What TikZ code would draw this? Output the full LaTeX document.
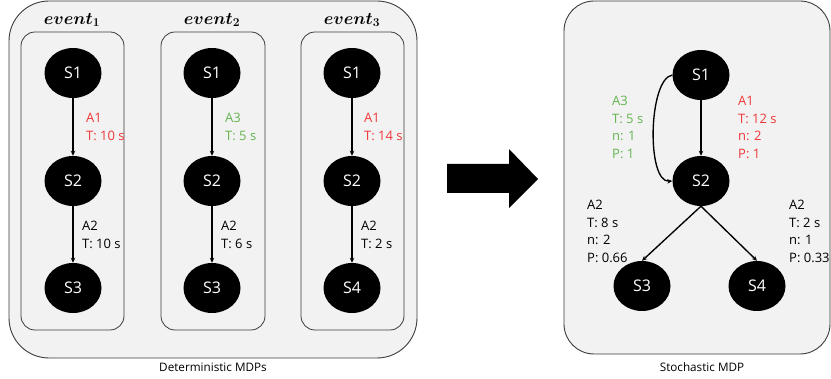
\documentclass[tikz,border=0pt]{standalone}
\usepackage{fontspec}
\setmainfont{Open Sans}
\usetikzlibrary{shapes.geometric,arrows.meta}
\definecolor{boxfill}{RGB}{242,242,242}
\definecolor{boxline}{RGB}{60,60,60}
\definecolor{lblred}{RGB}{240,55,55}
\definecolor{lblgreen}{RGB}{100,180,80}
\begin{document}
\begin{tikzpicture}[x=1pt,y=-1pt,
  state/.style={ellipse,fill=black,text=white,minimum width=57pt,minimum height=50pt,inner sep=0pt,font=\fontsize{16}{16}\selectfont},
  panel/.style={draw=boxline,fill=boxfill,line width=0.9pt},
  evbox/.style={draw=boxline,fill=boxfill,line width=0.8pt,rounded corners=14pt},
  lbl/.style={anchor=north west,align=left,inner sep=0pt,font=\fontsize{13}{17.5}\selectfont},
  evlbl/.style={inner sep=0pt,font=\fontsize{17}{20}\selectfont\boldmath},
  captxt/.style={inner sep=0pt,font=\fontsize{11.7}{12}\selectfont},
  edge/.style={-{Stealth[length=5pt,width=4.5pt]},line width=1.35pt}]
\useasboundingbox (0,0) rectangle (831,379);
% panels
\draw[panel,rounded corners=40pt] (9,1) rectangle (417,358);
\draw[panel,rounded corners=30pt] (564,1) rectangle (830,354);
\draw[evbox] (21,32) rectangle (124,330);
\draw[evbox] (161,32) rectangle (265,330);
\draw[evbox] (301,32) rectangle (404,330);
% event labels
\node[evlbl] (ev1) at (72,20) {$event_1$};
\node[evlbl] (ev2) at (212,20) {$event_2$};
\node[evlbl] (ev3) at (352,20) {$event_3$};
% event 1
\node[state] (a1) at (73,73) {S1};
\node[state] (a2) at (73,181) {S2};
\node[state] (a3) at (73,288) {S3};
\draw[edge] (a1) -- (a2);
\draw[edge] (a2) -- (a3);
\node[lbl,text=lblred] (la1) at (86,113) {A1\\T: 10 s};
\node[lbl] (la2) at (82,221) {A2\\T: 10 s};
% event 2
\node[state] (b1) at (212,73) {S1};
\node[state] (b2) at (212,181) {S2};
\node[state] (b3) at (212,288) {S3};
\draw[edge] (b1) -- (b2);
\draw[edge] (b2) -- (b3);
\node[lbl,text=lblgreen] (lb1) at (225,113) {A3\\T: 5 s};
\node[lbl] (lb2) at (221,221) {A2\\T: 6 s};
% event 3
\node[state] (c1) at (352,73) {S1};
\node[state] (c2) at (352,181) {S2};
\node[state] (c4) at (352,288) {S4};
\draw[edge] (c1) -- (c2);
\draw[edge] (c2) -- (c4);
\node[lbl,text=lblred] (lc1) at (364,113) {A1\\T: 14 s};
\node[lbl] (lc2) at (361,221) {A2\\T: 2 s};
% captions
\node[captxt] (capd) at (213,367) {Deterministic MDPs};
\node[captxt] (caps) at (702,367) {Stochastic MDP};
% big arrow
\fill[black] (447,164) -- (509,164) -- (509,149) -- (538,179) -- (509,208) -- (509,193) -- (447,193) -- cycle;
% stochastic MDP
\node[state] (r1) at (701,75) {S1};
\node[state] (r2) at (701,181) {S2};
\node[state] (r3) at (642,286) {S3};
\node[state] (r4) at (757,286) {S4};
\draw[edge] (r1) -- (r2);
\draw[edge] (r1.west) .. controls +(-24,4) and +(-26,2) .. (r2.west);
\draw[edge] (r2.south) -- (r3.north);
\draw[edge] (r2.south) -- (r4.north);
\node[lbl,text=lblgreen] (lr1) at (612,96) {A3\\T: 5 s\\n: 1\\P: 1};
\node[lbl,text=lblred] (lr2) at (738,96) {A1\\T: 12 s\\n: 2\\P: 1};
\node[lbl] (lr3) at (587,200) {A2\\T: 8 s\\n: 2\\P: 0.66};
\node[lbl] (lr4) at (789,200) {A2\\T: 2 s\\n: 1\\P: 0.33};
\end{tikzpicture}
\end{document}
